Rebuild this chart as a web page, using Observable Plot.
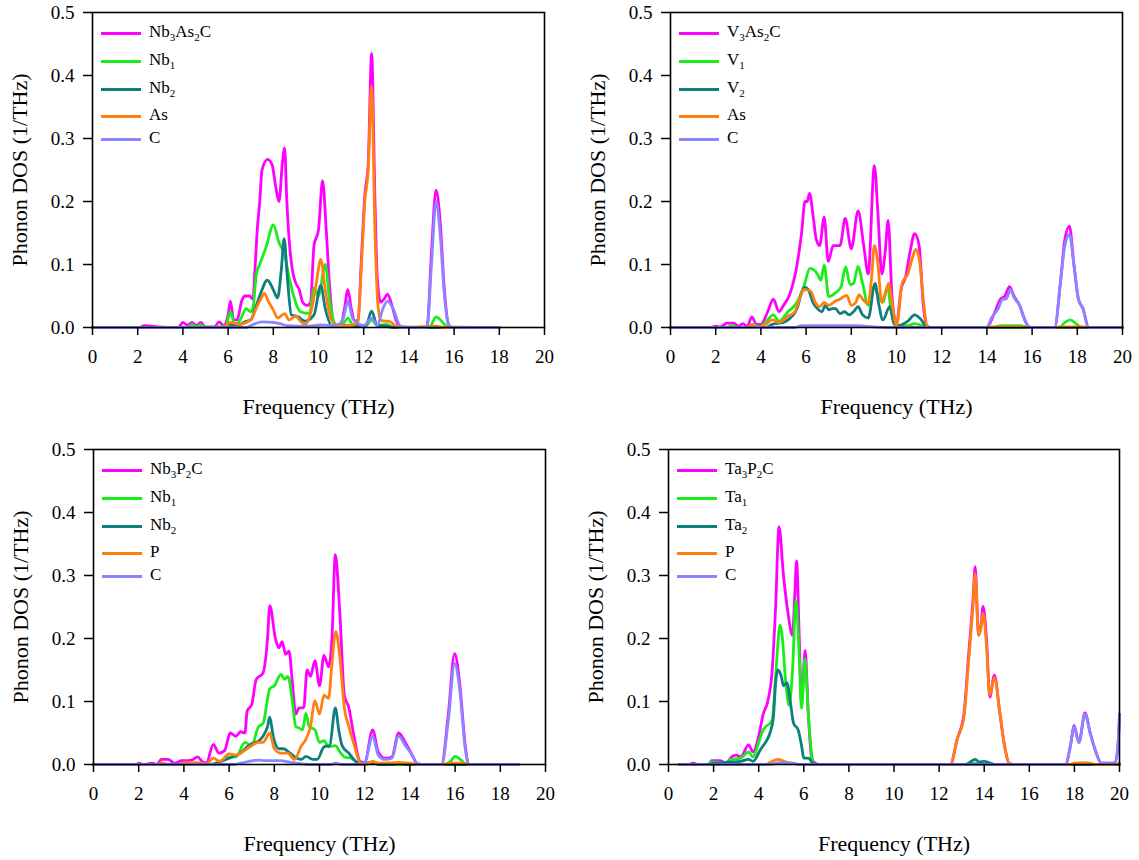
<!DOCTYPE html>
<html>
<head>
<meta charset="utf-8">
<script src="https://cdn.jsdelivr.net/npm/d3@7"></script>
<script src="https://cdn.jsdelivr.net/npm/@observablehq/plot@0.6"></script>
<style>
  html, body { margin: 0; padding: 0; background: #fff; }
  #root { position: relative; width: 1139px; height: 860px; font-family: "Liberation Serif", "Times New Roman", serif; }
  #root svg, #root svg text { font-family: "Liberation Serif", "Times New Roman", serif !important; }
  .panel { position: absolute; }
  .panel svg { display: block; }
  .leg-line { position: absolute; height: 3px; }
  .leg-text { position: absolute; font-size: 17px; line-height: 20px; color: #000; white-space: nowrap; }
  .leg-text sub { font-size: 11px; line-height: 0; vertical-align: -4px; }
</style>
</head>
<body>
<div id="root"></div>
<script>
// ---------- axis ticks ----------
const freqTicks = [0, 2, 4, 6, 8, 10, 12, 14, 16, 18, 20];
const dosTicks = [0.0, 0.1, 0.2, 0.3, 0.4, 0.5];
const xLabel = "Frequency (THz)";
const yLabel = "Phonon DOS (1/THz)";

// ---------- series colours ----------
const seriesColors = ["#ff00ff", "#19ee19", "#0e7f7f", "#ff8010", "#8a86ff"];

// ---------- Panel A: Nb3As2C  [frequency THz, DOS] ----------
const nb3as2c_total = [[0,0],[2.1,0],[2.3,0.003],[2.6,0.002],[2.9,0.001],[3.8,0],[4.0,0.008],[4.2,0.004],[4.4,0.008],[4.6,0.003],[4.8,0.008],[5.0,0.001],[5.4,0.001],[5.6,0.009],[5.8,0.003],[6.0,0.02],[6.1,0.042],[6.25,0.012],[6.4,0.012],[6.6,0.042],[6.75,0.05],[6.95,0.05],[7.1,0.045],[7.2,0.1],[7.3,0.16],[7.4,0.2],[7.5,0.25],[7.75,0.267],[7.95,0.258],[8.1,0.225],[8.25,0.2],[8.4,0.26],[8.5,0.285],[8.6,0.2],[8.7,0.14],[8.85,0.09],[9.0,0.07],[9.15,0.06],[9.3,0.04],[9.5,0.035],[9.65,0.04],[9.8,0.13],[10.0,0.155],[10.18,0.233],[10.35,0.15],[10.5,0.06],[10.65,0.01],[10.8,0.004],[11.0,0.006],[11.15,0.03],[11.3,0.06],[11.45,0.03],[11.6,0.01],[11.75,0.012],[11.9,0.11],[12.05,0.21],[12.2,0.26],[12.35,0.435],[12.5,0.2],[12.6,0.08],[12.75,0.04],[12.9,0.045],[13.05,0.053],[13.25,0.035],[13.45,0.01],[13.65,0.001],[14.8,0],[15.0,0.12],[15.2,0.218],[15.4,0.16],[15.55,0.07],[15.75,0.005],[15.9,0],[18,0]];
const nb3as2c_nb1 = [[0,0],[4.2,0],[4.4,0.005],[4.6,0.001],[4.8,0.004],[5.0,0],[5.9,0.002],[6.1,0.025],[6.3,0.005],[6.5,0.01],[6.8,0.03],[7.0,0.025],[7.1,0.03],[7.25,0.085],[7.4,0.1],[7.7,0.13],[8.0,0.163],[8.25,0.135],[8.5,0.115],[8.7,0.08],[8.9,0.05],[9.2,0.025],[9.6,0.022],[9.8,0.062],[10.0,0.05],[10.3,0.1],[10.5,0.04],[10.75,0.005],[11.0,0.002],[11.3,0.015],[11.5,0.005],[12.1,0.003],[12.35,0.012],[12.6,0.003],[13.0,0.005],[13.3,0.001],[14.9,0],[15.2,0.017],[15.45,0.01],[15.7,0.001],[18,0]];
const nb3as2c_nb2 = [[0,0],[5.8,0],[6.1,0.005],[6.4,0.003],[6.8,0.01],[7.0,0.012],[7.2,0.03],[7.4,0.05],[7.74,0.075],[8.0,0.06],[8.19,0.047],[8.35,0.09],[8.48,0.141],[8.62,0.08],[8.8,0.02],[9.1,0.017],[9.4,0.01],[9.8,0.02],[10.1,0.067],[10.3,0.03],[10.6,0.003],[11.3,0.003],[12.1,0.003],[12.35,0.026],[12.6,0.003],[13.0,0.002],[13.3,0],[18,0]];
const nb3as2c_as = [[0,0],[5.8,0],[6.1,0.008],[6.5,0.005],[7.0,0.012],[7.3,0.035],[7.45,0.045],[7.6,0.054],[7.8,0.04],[8.0,0.028],[8.2,0.015],[8.5,0.022],[8.7,0.012],[9.0,0.018],[9.2,0.01],[9.4,0.005],[9.7,0.03],[9.9,0.07],[10.1,0.108],[10.3,0.06],[10.5,0.02],[10.8,0.003],[11.3,0.003],[11.6,0.005],[11.75,0.01],[11.9,0.1],[12.05,0.2],[12.2,0.25],[12.35,0.383],[12.5,0.15],[12.62,0.04],[12.75,0.012],[12.95,0.01],[13.1,0.01],[13.4,0.003],[13.6,0],[15.2,0.002],[15.6,0],[18,0]];
const nb3as2c_c = [[0,0],[6.8,0],[7.0,0.003],[7.5,0.009],[8.0,0.008],[8.3,0.006],[8.6,0.003],[9.5,0.002],[10.1,0.004],[10.8,0.003],[11.1,0.015],[11.3,0.042],[11.5,0.015],[11.8,0.005],[12.0,0.003],[12.35,0.015],[12.6,0.003],[12.85,0.03],[13.05,0.042],[13.3,0.03],[13.6,0.003],[13.8,0],[14.8,0],[15.0,0.1],[15.2,0.2],[15.4,0.14],[15.55,0.06],[15.75,0.005],[15.9,0],[18,0]];
const nb3as2c_names = ["Nb<sub>3</sub>As<sub>2</sub>C", "Nb<sub>1</sub>", "Nb<sub>2</sub>", "As", "C"];

// ---------- Panel B: V3As2C ----------
const v3as2c_total = [[0,0],[1.8,0],[2.0,0.002],[2.2,0.001],[2.5,0.007],[2.8,0.007],[3.0,0.002],[3.2,0.006],[3.4,0.002],[3.6,0.017],[3.8,0.005],[4.0,0.005],[4.3,0.025],[4.55,0.045],[4.8,0.025],[5.0,0.035],[5.3,0.055],[5.6,0.1],[5.8,0.15],[5.95,0.2],[6.05,0.2],[6.15,0.213],[6.3,0.18],[6.45,0.14],[6.6,0.13],[6.8,0.175],[6.98,0.105],[7.2,0.13],[7.5,0.13],[7.73,0.173],[8.0,0.125],[8.3,0.185],[8.55,0.13],[8.75,0.085],[9.02,0.257],[9.18,0.18],[9.35,0.085],[9.5,0.12],[9.63,0.17],[9.8,0.05],[10.0,0.005],[10.2,0.06],[10.4,0.08],[10.6,0.12],[10.8,0.149],[11.0,0.13],[11.2,0.03],[11.35,0.002],[11.5,0],[14.0,0],[14.3,0.02],[14.6,0.045],[14.8,0.05],[15.0,0.065],[15.2,0.05],[15.45,0.035],[15.7,0.01],[15.9,0],[17.0,0],[17.25,0.07],[17.45,0.14],[17.65,0.161],[17.85,0.1],[18.05,0.045],[18.25,0.03],[18.5,0],[20,0]];
const v3as2c_v1 = [[0,0],[2.5,0],[2.7,0.003],[3.0,0],[3.5,0],[3.7,0.005],[3.9,0],[4.2,0.008],[4.55,0.02],[4.8,0.01],[5.2,0.025],[5.6,0.04],[5.9,0.065],[6.17,0.094],[6.5,0.085],[6.65,0.075],[6.8,0.099],[7.0,0.049],[7.3,0.055],[7.55,0.065],[7.75,0.096],[7.95,0.068],[8.1,0.07],[8.3,0.097],[8.5,0.07],[8.75,0.035],[9.0,0.065],[9.2,0.05],[9.4,0.04],[9.6,0.065],[9.75,0.03],[10.0,0.003],[10.5,0.003],[10.8,0.006],[11.2,0.002],[11.4,0],[14.3,0],[14.6,0.003],[15.5,0.003],[15.8,0],[17.2,0],[17.45,0.008],[17.7,0.012],[17.95,0.006],[18.2,0],[20,0]];
const v3as2c_v2 = [[0,0],[4.2,0],[4.5,0.005],[5.0,0.008],[5.3,0.015],[5.6,0.03],[5.8,0.055],[5.93,0.064],[6.1,0.06],[6.3,0.04],[6.5,0.03],[6.7,0.025],[6.85,0.035],[7.0,0.028],[7.15,0.03],[7.3,0.03],[7.5,0.022],[7.7,0.025],[7.9,0.02],[8.1,0.025],[8.3,0.033],[8.5,0.02],[8.75,0.015],[9.05,0.07],[9.2,0.04],[9.4,0.012],[9.7,0.033],[9.9,0.005],[10.1,0.003],[10.5,0.01],[10.8,0.02],[11.1,0.012],[11.3,0.002],[11.5,0],[20,0]];
const v3as2c_as = [[0,0],[3.4,0],[3.6,0.005],[3.8,0],[4.2,0.005],[4.5,0.012],[4.8,0.008],[5.2,0.018],[5.5,0.025],[5.75,0.05],[5.9,0.06],[6.2,0.058],[6.4,0.04],[6.6,0.033],[6.8,0.04],[7.0,0.035],[7.3,0.042],[7.5,0.045],[7.8,0.051],[8.0,0.035],[8.2,0.04],[8.35,0.052],[8.5,0.045],[8.75,0.038],[8.9,0.08],[9.02,0.13],[9.15,0.11],[9.35,0.04],[9.55,0.06],[9.65,0.07],[9.8,0.04],[10.0,0.003],[10.25,0.07],[10.5,0.085],[10.7,0.11],[10.85,0.124],[11.0,0.11],[11.2,0.04],[11.35,0.002],[11.5,0],[14.0,0],[14.2,0.001],[15.8,0.001],[16,0],[17,0],[17.2,0.001],[18.4,0.001],[18.6,0],[20,0]];
const v3as2c_c = [[0,0],[5.5,0],[5.8,0.003],[7.5,0.003],[8.3,0.003],[9.0,0.001],[9.5,0],[14.0,0],[14.2,0.015],[14.5,0.03],[14.7,0.045],[14.85,0.045],[15.05,0.06],[15.2,0.048],[15.45,0.035],[15.7,0.01],[15.9,0],[17.0,0],[17.25,0.07],[17.45,0.13],[17.65,0.148],[17.85,0.1],[18.05,0.045],[18.25,0.03],[18.5,0],[20,0]];
const v3as2c_names = ["V<sub>3</sub>As<sub>2</sub>C", "V<sub>1</sub>", "V<sub>2</sub>", "As", "C"];

// ---------- Panel C: Nb3P2C ----------
const nb3p2c_total = [[0,0],[1.9,0],[2.0,0.002],[2.2,0],[2.6,0.002],[2.8,0],[3.0,0.008],[3.3,0.008],[3.6,0.002],[3.9,0.006],[4.2,0.006],[4.4,0.008],[4.6,0.012],[4.85,0.004],[5.0,0.003],[5.3,0.032],[5.55,0.018],[5.8,0.022],[6.05,0.05],[6.3,0.045],[6.5,0.052],[6.7,0.05],[6.8,0.085],[7.0,0.095],[7.2,0.135],[7.5,0.145],[7.7,0.2],[7.8,0.252],[8.05,0.2],[8.2,0.185],[8.35,0.195],[8.5,0.175],[8.65,0.18],[8.8,0.13],[8.95,0.08],[9.1,0.09],[9.3,0.09],[9.45,0.15],[9.6,0.14],[9.8,0.165],[10.0,0.125],[10.2,0.173],[10.4,0.155],[10.55,0.2],[10.7,0.333],[10.9,0.24],[11.1,0.11],[11.3,0.09],[11.5,0.05],[11.8,0.005],[12.0,0.003],[12.35,0.055],[12.6,0.02],[12.9,0.01],[13.2,0.012],[13.5,0.05],[13.8,0.035],[14.1,0.015],[14.3,0.002],[14.5,0],[15.4,0],[15.7,0.08],[15.98,0.176],[16.2,0.13],[16.45,0.03],[16.6,0],[18.8,0]];
const nb3p2c_nb1 = [[0,0],[5.2,0],[5.5,0.003],[6.0,0.012],[6.3,0.012],[6.7,0.035],[7.0,0.03],[7.3,0.06],[7.5,0.065],[7.8,0.12],[8.0,0.125],[8.3,0.143],[8.45,0.135],[8.6,0.14],[8.8,0.1],[8.95,0.06],[9.1,0.058],[9.25,0.055],[9.4,0.081],[9.55,0.06],[9.8,0.055],[10.0,0.035],[10.2,0.038],[10.4,0.028],[10.7,0.03],[10.9,0.02],[11.1,0.012],[11.4,0.01],[11.7,0.003],[12.0,0],[12.35,0.003],[12.6,0],[15.5,0],[15.8,0.005],[16.0,0.013],[16.3,0.006],[16.5,0],[18.8,0]];
const nb3p2c_nb2 = [[0,0],[5.2,0],[5.5,0.003],[6.0,0.01],[6.5,0.018],[6.8,0.028],[7.0,0.033],[7.3,0.037],[7.5,0.045],[7.7,0.06],[7.8,0.075],[7.95,0.045],[8.2,0.025],[8.4,0.025],[8.7,0.018],[9.0,0.01],[9.2,0.008],[9.4,0.013],[9.7,0.008],[9.9,0.008],[10.2,0.028],[10.45,0.03],[10.7,0.09],[10.85,0.055],[11.0,0.03],[11.3,0.018],[11.6,0.005],[11.8,0.002],[12.35,0.003],[12.6,0],[13.3,0],[13.5,0.003],[13.8,0],[18.8,0]];
const nb3p2c_p = [[0,0],[2.8,0],[3.0,0.003],[3.3,0],[3.8,0],[4.0,0.003],[4.6,0.003],[5.0,0.001],[5.3,0.01],[5.6,0.005],[6.0,0.017],[6.3,0.015],[6.5,0.018],[6.8,0.025],[7.0,0.03],[7.3,0.035],[7.5,0.035],[7.8,0.05],[8.0,0.025],[8.3,0.018],[8.6,0.018],[8.9,0.008],[9.2,0.03],[9.4,0.04],[9.6,0.06],[9.8,0.101],[10.0,0.08],[10.2,0.11],[10.4,0.105],[10.55,0.16],[10.72,0.211],[10.9,0.17],[11.1,0.09],[11.3,0.06],[11.5,0.035],[11.8,0.003],[12.0,0],[12.35,0.005],[12.6,0.002],[13.5,0.003],[14.0,0.002],[14.3,0],[15.5,0],[15.7,0.002],[16.4,0.002],[16.6,0],[18.8,0]];
const nb3p2c_c = [[0,0],[6.2,0],[6.5,0.002],[7.3,0.007],[7.6,0.006],[8.3,0.006],[8.6,0.004],[9.0,0.002],[9.5,0],[10.5,0],[10.7,0.002],[11.0,0],[11.8,0],[12.0,0.003],[12.35,0.045],[12.6,0.015],[12.9,0.008],[13.2,0.01],[13.5,0.045],[13.8,0.03],[14.1,0.015],[14.3,0.002],[14.5,0],[15.4,0],[15.7,0.07],[15.98,0.16],[16.2,0.12],[16.45,0.025],[16.6,0],[18.8,0]];
const nb3p2c_names = ["Nb<sub>3</sub>P<sub>2</sub>C", "Nb<sub>1</sub>", "Nb<sub>2</sub>", "P", "C"];

// ---------- Panel D: Ta3P2C ----------
const ta3p2c_total = [[0.5,0],[0.9,0],[1.1,0.002],[1.3,0],[1.8,0],[1.9,0.006],[2.3,0.006],[2.55,0.002],[2.8,0.012],[3.0,0.015],[3.2,0.012],[3.55,0.031],[3.75,0.02],[4.0,0.045],[4.2,0.08],[4.4,0.1],[4.6,0.15],[4.75,0.25],[4.9,0.377],[5.1,0.3],[5.3,0.24],[5.5,0.205],[5.6,0.27],[5.68,0.323],[5.8,0.2],[5.9,0.097],[6.06,0.181],[6.2,0.08],[6.35,0.01],[6.5,0.002],[6.7,0],[12.5,0],[12.8,0.04],[13.1,0.08],[13.3,0.17],[13.5,0.26],[13.6,0.314],[13.75,0.205],[13.85,0.22],[13.95,0.251],[14.1,0.2],[14.25,0.107],[14.45,0.142],[14.7,0.08],[14.9,0.03],[15.1,0.002],[15.3,0],[17.6,0],[17.85,0.035],[17.98,0.062],[18.2,0.035],[18.47,0.082],[18.7,0.05],[18.95,0.02],[19.2,0.002],[19.8,0.002],[19.95,0.04],[20,0.08]];
const ta3p2c_ta1 = [[0.5,0],[1.7,0],[1.9,0.004],[2.5,0.003],[2.8,0.008],[3.2,0.01],[3.55,0.02],[3.75,0.012],[4.0,0.035],[4.2,0.055],[4.6,0.07],[4.75,0.14],[4.95,0.221],[5.05,0.2],[5.2,0.13],[5.35,0.094],[5.5,0.15],[5.65,0.261],[5.8,0.17],[5.9,0.089],[6.05,0.168],[6.2,0.08],[6.4,0.005],[6.5,0],[13.3,0],[13.6,0.002],[13.9,0],[20,0]];
const ta3p2c_ta2 = [[0.5,0],[1.8,0],[2.0,0.002],[2.8,0.004],[3.2,0.005],[3.55,0.008],[3.75,0.005],[4.1,0.025],[4.3,0.035],[4.5,0.05],[4.65,0.075],[4.75,0.13],[4.85,0.15],[5.0,0.14],[5.1,0.125],[5.25,0.13],[5.4,0.1],[5.55,0.065],[5.75,0.055],[5.9,0.03],[6.0,0.01],[6.2,0.01],[6.4,0.002],[6.6,0],[13.1,0],[13.3,0.002],[13.6,0.008],[13.8,0.004],[14.0,0.005],[14.3,0.002],[14.5,0],[20,0]];
const ta3p2c_p = [[0.5,0],[4.3,0],[4.5,0.003],[4.85,0.008],[5.2,0.004],[5.5,0.002],[5.8,0],[12.5,0],[12.8,0.04],[13.1,0.075],[13.3,0.16],[13.5,0.25],[13.6,0.303],[13.75,0.205],[13.85,0.215],[13.95,0.24],[14.1,0.19],[14.25,0.11],[14.45,0.138],[14.7,0.08],[14.9,0.03],[15.1,0.002],[15.3,0],[17.8,0],[18.0,0.002],[18.5,0.003],[19.0,0],[19.8,0],[20,0.002]];
const ta3p2c_c = [[0.5,0],[4.5,0],[4.9,0.003],[5.5,0.002],[5.9,0],[17.6,0],[17.85,0.035],[17.98,0.06],[18.2,0.035],[18.47,0.08],[18.7,0.05],[18.95,0.02],[19.2,0.002],[19.8,0.002],[19.95,0.04],[20,0.078]];
const ta3p2c_names = ["Ta<sub>3</sub>P<sub>2</sub>C", "Ta<sub>1</sub>", "Ta<sub>2</sub>", "P", "C"];

// ---------- panel layout ----------
const panels = [
  {left: 0,   top: 0,   width: 570, ml: 92,  mr: 26, mt: 12, mb: 103, series: [nb3as2c_total, nb3as2c_nb1, nb3as2c_nb2, nb3as2c_as, nb3as2c_c], names: nb3as2c_names},
  {left: 570, top: 0,   width: 569, ml: 100, mr: 17, mt: 12, mb: 103, series: [v3as2c_total, v3as2c_v1, v3as2c_v2, v3as2c_as, v3as2c_c], names: v3as2c_names},
  {left: 0,   top: 430, width: 570, ml: 93,  mr: 25, mt: 19, mb: 96,  series: [nb3p2c_total, nb3p2c_nb1, nb3p2c_nb2, nb3p2c_p, nb3p2c_c], names: nb3p2c_names},
  {left: 570, top: 430, width: 569, ml: 98,  mr: 20, mt: 19, mb: 96,  series: [ta3p2c_total, ta3p2c_ta1, ta3p2c_ta2, ta3p2c_p, ta3p2c_c], names: ta3p2c_names}
];
const legendRowY = [21, 49, 77, 104, 127];

const root = document.getElementById("root");
const font = '"Liberation Serif", "Times New Roman", serif';

for (const p of panels) {
  const div = document.createElement("div");
  div.className = "panel";
  div.style.left = p.left + "px";
  div.style.top = p.top + "px";
  div.style.width = p.width + "px";
  div.style.height = "430px";

  const lineMarks = p.series.map((s, i) =>
    Plot.line(s, {x: d => d[0], y: d => d[1], stroke: seriesColors[i], strokeWidth: 2.8, curve: "monotone-x"})
  );

  const chart = Plot.plot({
    width: p.width,
    height: 430,
    marginLeft: p.ml, marginRight: p.mr, marginTop: p.mt, marginBottom: p.mb,
    style: {fontFamily: font, background: "#fff", color: "#000", overflow: "visible"},
    x: {domain: [0, 20]},
    y: {domain: [0, 0.5]},
    marks: [
      ...lineMarks,
      Plot.frame({stroke: "#000", strokeWidth: 1.6}),
      Plot.axisX({ticks: freqTicks, tickSize: 8, tickPadding: 14, fontSize: 19, fontFamily: font, strokeWidth: 1.5, label: null}),
      Plot.axisY({ticks: dosTicks, tickFormat: d3.format(".1f"), tickSize: 9, tickPadding: 9, fontSize: 19, fontFamily: font, strokeWidth: 1.5, label: null}),
      Plot.text([xLabel], {text: d => d, frameAnchor: "bottom", dy: 79, textAnchor: "middle", lineAnchor: "middle", fontSize: 22, fontFamily: font, fill: "#000"}),
      Plot.text([yLabel], {text: d => d, frameAnchor: "left", dx: -73, rotate: -90, textAnchor: "middle", lineAnchor: "middle", fontSize: 22, fontFamily: font, fill: "#000"})
    ]
  });
  div.appendChild(chart);

  // legend overlay
  p.names.forEach((name, i) => {
    const y = p.mt + legendRowY[i];
    const ln = document.createElement("div");
    ln.className = "leg-line";
    ln.style.left = (p.ml + 9) + "px";
    ln.style.top = (y - 1.5) + "px";
    ln.style.width = "40px";
    ln.style.background = seriesColors[i];
    div.appendChild(ln);
    const tx = document.createElement("div");
    tx.className = "leg-text";
    tx.style.left = (p.ml + 57) + "px";
    tx.style.top = (y - 11) + "px";
    tx.innerHTML = name;
    div.appendChild(tx);
  });

  root.appendChild(div);
}
</script>
</body>
</html>
